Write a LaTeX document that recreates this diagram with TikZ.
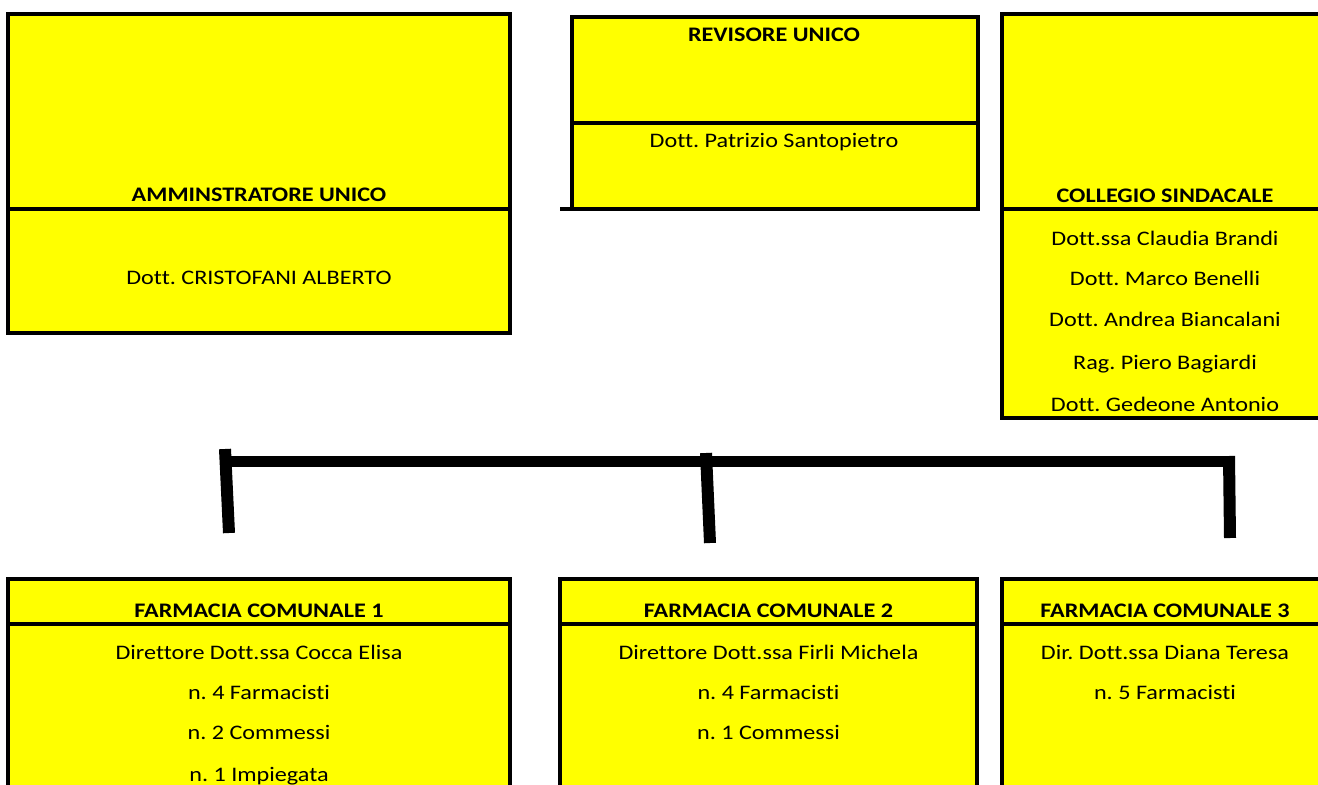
\documentclass[tikz,border=0pt]{standalone}
\usepackage{fontspec}
\setmainfont{Carlito}[FakeStretch=1.17, Ligatures=NoCommon]
\definecolor{cellyellow}{RGB}{255,255,0}
\newcommand\unitpx{0.75pt}
\newcommand\cellfont{\fontsize{15.5}{18}\selectfont}
\frenchspacing
\tikzset{
  cell/.style={draw, fill=cellyellow, line width=2.3pt, anchor=north west, inner sep=0pt, outer sep=0pt},
  caption/.style={anchor=base, font=\cellfont\bfseries},
  entry/.style={anchor=base, font=\cellfont},
  bar/.style={line width=8.25pt},
  stem/.style={line width=9pt}
}

\begin{document}
\begin{tikzpicture}[x=0.75pt, y=-0.75pt]
	\useasboundingbox (0,0) rectangle (1318,785);
	\clip (0,0) rectangle (1318,785);

	% top row
	\node[cell, minimum width=502*\unitpx, minimum height=195*\unitpx] (au-head) at (8,14) {};
	\node[cell, minimum width=502*\unitpx, minimum height=124*\unitpx] (au-body) at (8,209) {};
	\node[caption] (au-title) at (259,201) {AMMINSTRATORE UNICO};
	\node[entry] (au-name) at (259,284) {Dott. CRISTOFANI ALBERTO};

	\node[cell, minimum width=406*\unitpx, minimum height=106*\unitpx] (rev-head) at (572,17) {};
	\node[cell, minimum width=406*\unitpx, minimum height=86*\unitpx] (rev-body) at (572,123) {};
	\node[caption] (rev-title) at (774,41) {REVISORE UNICO};
	\node[entry] (rev-name) at (774,147) {Dott. Patrizio Santopietro};
	\coordinate (rev-tail) at (560,209);
	\draw[line width=2.3pt] (rev-tail) -- (rev-body.south west);

	\node[cell, minimum width=326*\unitpx, minimum height=195*\unitpx] (col-head) at (1002,14) {};
	\node[cell, minimum width=326*\unitpx, minimum height=209*\unitpx] (col-body) at (1002,209) {};
	\node[caption] (col-title) at (1165,202) {COLLEGIO SINDACALE};
	\node[entry] (col-1) at (1165,245) {Dott.ssa Claudia Brandi};
	\node[entry] (col-2) at (1165,285) {Dott. Marco Benelli};
	\node[entry] (col-3) at (1165,326) {Dott. Andrea Biancalani};
	\node[entry] (col-4) at (1165,369) {Rag. Piero Bagiardi};
	\node[entry] (col-5) at (1165,411) {Dott. Gedeone Antonio};

	% connector
	\coordinate (bar-w) at (222,461.5);
	\coordinate (bar-e) at (1234,461.5);
	\coordinate (stem1-top) at (225,449);
	\coordinate (stem1-end) at (229,533);
	\coordinate (stem2-top) at (706,453);
	\coordinate (stem2-end) at (710,543);
	\coordinate (stem3-top) at (1229,456);
	\coordinate (stem3-end) at (1230,538);
	\draw[bar] (bar-w) -- (bar-e);
	\draw[stem] (stem1-top) -- (stem1-end);
	\draw[stem] (stem2-top) -- (stem2-end);
	\draw[stem] (stem3-top) -- (stem3-end);

	% bottom row
	\node[cell, minimum width=502*\unitpx, minimum height=45*\unitpx] (fc1-head) at (8,579) {};
	\node[cell, minimum width=502*\unitpx, minimum height=200*\unitpx] (fc1-body) at (8,624) {};
	\node[caption] (fc1-title) at (259,617) {FARMACIA COMUNALE 1};
	\node[entry] (fc1-1) at (259,659) {Direttore Dott.ssa Cocca Elisa};
	\node[entry] (fc1-2) at (259,699) {n. 4 Farmacisti};
	\node[entry] (fc1-3) at (259,739) {n. 2 Commessi};
	\node[entry] (fc1-4) at (259,781) {n. 1 Impiegata};

	\node[cell, minimum width=417*\unitpx, minimum height=45*\unitpx] (fc2-head) at (560,579) {};
	\node[cell, minimum width=417*\unitpx, minimum height=200*\unitpx] (fc2-body) at (560,624) {};
	\node[caption] (fc2-title) at (768.5,617) {FARMACIA COMUNALE 2};
	\node[entry] (fc2-1) at (768.5,659) {Direttore Dott.ssa Firli Michela};
	\node[entry] (fc2-2) at (768.5,699) {n. 4 Farmacisti};
	\node[entry] (fc2-3) at (768.5,739) {n. 1 Commessi};

	\node[cell, minimum width=326*\unitpx, minimum height=45*\unitpx] (fc3-head) at (1002,579) {};
	\node[cell, minimum width=326*\unitpx, minimum height=200*\unitpx] (fc3-body) at (1002,624) {};
	\node[caption] (fc3-title) at (1165,617) {FARMACIA COMUNALE 3};
	\node[entry] (fc3-1) at (1165,659) {Dir. Dott.ssa Diana Teresa};
	\node[entry] (fc3-2) at (1165,699) {n. 5 Farmacisti};
\end{tikzpicture}
\end{document}
